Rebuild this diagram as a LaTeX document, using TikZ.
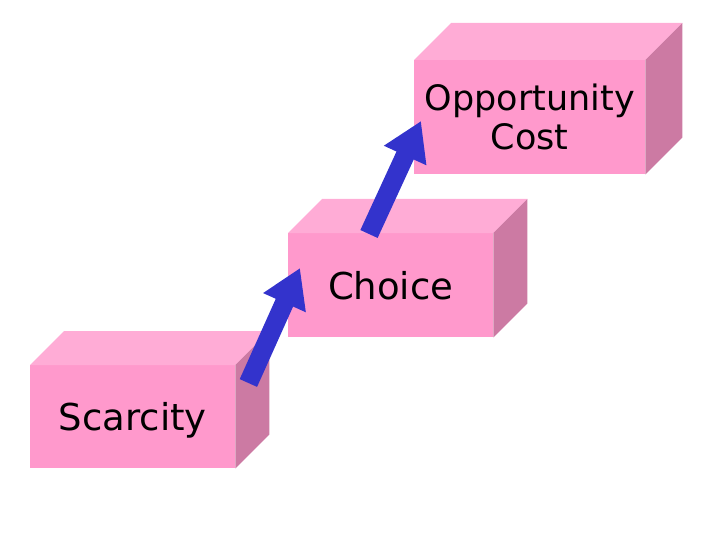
\documentclass[tikz,border=0pt]{standalone}
\usepackage{fontspec}
\newfontfamily\boxfont{DejaVu Sans}
\usetikzlibrary{arrows.meta, calc}

\definecolor{frontpink}{RGB}{255,153,204}
\definecolor{toppink}{RGB}{255,172,214}
\definecolor{sidepink}{RGB}{204,122,163}
\definecolor{arrowblue}{RGB}{51,51,204}

% top and side faces of a block, #1 = front node, #2 = depth
\newcommand\blockfaces[2]{%
  \fill[topface] (#1.north west) -- ++(#2,-#2)
    -- ($(#1.north east)+(#2,-#2)$) -- (#1.north east) -- cycle;
  \fill[sideface] (#1.north east) -- ++(#2,-#2)
    -- ($(#1.south east)+(#2,-#2)$) -- (#1.south east) -- cycle;
}

\begin{document}
\begin{tikzpicture}[
    x=1pt, y=-1pt,
    front/.style    ={fill=frontpink, inner sep=0pt, anchor=north west, align=center,
                      text depth=0pt, font=\boxfont\fontsize{37}{40}\selectfont},
    topface/.style  ={fill=toppink},
    sideface/.style ={fill=sidepink},
    steparrow/.style={-{Triangle[length=38pt, width=44pt]}, line width=19pt, draw=arrowblue}
]
\useasboundingbox (0,0) rectangle (720,540);

% ---------- front faces ----------
\node[front, minimum width=205pt, minimum height=103pt] (scarcity) at (30,365) {Scarcity};
\node[front, minimum width=205pt, minimum height=104pt] (choice)   at (288,233) {Choice};
\node[front, minimum width=231pt, minimum height=114pt, font=\boxfont\fontsize{35}{39}\selectfont]
    (opcost) at (414,60) {Opportunity\\Cost};

% ---------- top and side faces ----------
\blockfaces{scarcity}{34}
\blockfaces{choice}{34}
\blockfaces{opcost}{37}

% ---------- step arrows ----------
\coordinate (up1) at ($(scarcity.north east)+(13,18)$);
\coordinate (up2) at ($(choice.north west)+(81,1)$);
\draw[steparrow] (up1) -- ($(choice.north west)+(12,35)$);
\draw[steparrow] (up2) -- ($(opcost.north west)+(7,61)$);

\end{tikzpicture}
\end{document}
